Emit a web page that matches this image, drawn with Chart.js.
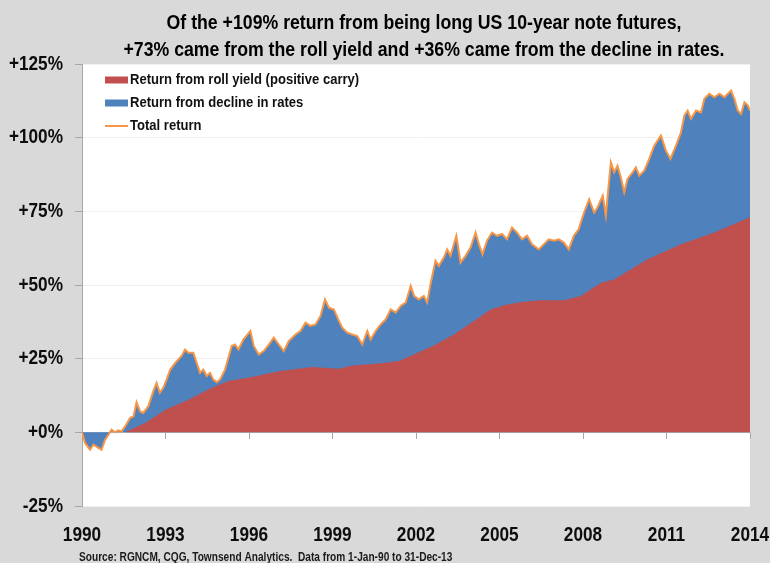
<!DOCTYPE html>
<html>
<head>
<meta charset="utf-8">
<script src="https://cdn.jsdelivr.net/npm/chart.js@4.4.1/dist/chart.umd.min.js"></script>
<style>
	html, body { margin: 0; padding: 0; background: #d9d9d9; }
	#chart { display: block; }
</style>
</head>
<body>
<canvas id="chart" width="770" height="563"></canvas>
<script>
(function () {
	'use strict';

	// total return (years as decimals, values in %)
	var totalYears = [
		1990.00, 1990.11, 1990.29, 1990.41, 1990.59, 1990.70, 1990.83, 1990.95, 1991.06, 1991.19,
		1991.30, 1991.42, 1991.55, 1991.73, 1991.85, 1991.96, 1992.09, 1992.20, 1992.38, 1992.56,
		1992.68, 1992.80, 1992.92, 1993.04, 1993.17, 1993.35, 1993.46, 1993.58, 1993.70, 1993.82,
		1994.00, 1994.12, 1994.24, 1994.36, 1994.48, 1994.60, 1994.72, 1994.84, 1994.96, 1995.14,
		1995.38, 1995.50, 1995.62, 1995.80, 1996.05, 1996.17, 1996.35, 1996.53, 1996.71, 1996.89,
		1997.07, 1997.25, 1997.43, 1997.67, 1997.85, 1998.03, 1998.21, 1998.39, 1998.57, 1998.73,
		1998.87, 1999.05, 1999.23, 1999.35, 1999.53, 1999.71, 1999.89, 2000.07, 2000.25, 2000.37,
		2000.55, 2000.73, 2000.91, 2001.09, 2001.27, 2001.45, 2001.63, 2001.81, 2001.93, 2002.10,
		2002.28, 2002.40, 2002.52, 2002.70, 2002.82, 2003.00, 2003.12, 2003.24, 2003.45, 2003.60,
		2003.78, 2003.96, 2004.14, 2004.26, 2004.39, 2004.55, 2004.73, 2004.91, 2005.09, 2005.27,
		2005.45, 2005.63, 2005.81, 2005.99, 2006.17, 2006.41, 2006.59, 2006.77, 2006.95, 2007.13,
		2007.31, 2007.49, 2007.67, 2007.85, 2007.92, 2008.04, 2008.22, 2008.40, 2008.52, 2008.71,
		2008.82, 2009.00, 2009.12, 2009.24, 2009.36, 2009.48, 2009.60, 2009.78, 2009.90, 2010.02,
		2010.20, 2010.38, 2010.56, 2010.80, 2010.98, 2011.14, 2011.34, 2011.52, 2011.64, 2011.76,
		2011.88, 2012.06, 2012.24, 2012.36, 2012.54, 2012.72, 2012.90, 2013.08, 2013.32, 2013.44,
		2013.56, 2013.68, 2013.80, 2013.92, 2014.00
	];
	var totalReturn = [
		0.0, -3.6, -5.9, -4.2, -5.3, -5.9, -2.5, -0.8, 0.9, 0.0,
		0.7, 0.3, 2.0, 4.9, 5.4, 10.2, 7.1, 6.6, 8.8, 13.9,
		16.8, 13.4, 15.1, 17.9, 21.3, 23.6, 24.7, 25.9, 28.1, 27.0,
		27.0, 23.6, 20.2, 21.3, 19.1, 20.2, 17.9, 17.0, 17.9, 21.3,
		29.3, 29.8, 28.1, 31.5, 34.4, 29.3, 26.4, 27.6, 29.8, 32.1,
		29.8, 27.6, 31.0, 33.2, 34.4, 37.2, 36.1, 36.6, 39.5, 45.1,
		42.3, 41.7, 37.8, 35.5, 33.8, 33.2, 32.7, 29.8, 34.4, 31.5,
		34.4, 36.6, 38.3, 41.7, 40.6, 42.9, 44.0, 49.7, 46.3, 45.1,
		46.3, 44.0, 50.2, 58.2, 56.5, 59.3, 62.1, 59.9, 66.7, 57.6,
		59.9, 62.7, 67.8, 63.8, 60.4, 65.0, 67.8, 66.7, 67.3, 65.5,
		69.5, 67.8, 65.5, 66.7, 63.8, 62.1, 63.8, 65.5, 65.0, 65.5,
		64.4, 62.1, 66.7, 69.0, 71.2, 74.6, 79.1, 74.6, 76.3, 80.3,
		73.5, 91.6, 88.2, 90.5, 86.5, 81.4, 86.0, 88.2, 89.9, 87.1,
		88.8, 92.8, 97.3, 100.7, 95.6, 92.8, 97.3, 101.8, 107.5, 109.2,
		106.4, 109.2, 108.6, 113.2, 114.9, 113.7, 114.9, 113.7, 116.0, 113.2,
		109.2, 108.0, 112.0, 111.0, 109.2
	];

	var rollYears = [
		1990.00, 1991.55, 1992.27, 1993.00, 1993.82, 1994.66, 1995.26, 1996.10, 1997.07, 1998.27,
		1999.23, 1999.71, 2000.67, 2001.39, 2001.92, 2002.64, 2003.36, 2004.08, 2004.68, 2005.27,
		2005.87, 2006.47, 2007.31, 2007.92, 2008.65, 2009.12, 2010.32, 2011.52, 2012.72, 2014.00
	];
	var rollYield = [
		0.0, 0.0, 3.2, 7.7, 11.1, 15.1, 17.4, 18.8, 20.7, 22.2,
		21.6, 22.7, 23.4, 24.2, 26.4, 29.5, 33.2, 37.8, 41.7, 43.4,
		44.3, 44.8, 44.8, 46.3, 50.8, 51.9, 58.7, 63.8, 67.8, 73.0
	];

	var yearTicks = [1990, 1993, 1996, 1999, 2002, 2005, 2008, 2011, 2014];
	var pctTicks = [-25, 0, 25, 50, 75, 100, 125];

	var titleLines = [
		'Of the +109% return from being long US 10-year note futures,',
		'+73% came from the roll yield and +36% came from the decline in rates.'
	];
	var sourceText = 'Source: RGNCM, CQG, Townsend Analytics.  Data from 1-Jan-90 to 31-Dec-13';

	// no Arial Narrow here, so squeeze Liberation Sans the same way
	var FONT = '"Liberation Sans", Arial, sans-serif';

	function narrowText(c, text, x, y, align, font, squeeze) {
		c.save();
		c.font = font;
		c.textAlign = align;
		c.textBaseline = 'middle';
		c.translate(x, y);
		c.scale(squeeze || 0.82, 1);
		c.fillText(text, 0, 0);
		c.restore();
	}

	function toPoints(xs, ys) {
		return xs.map(function (x, i) {
			return { x: x, y: ys[i] };
		});
	}

	function fixedTicks(list) {
		return function (s) {
			s.ticks = list.map(function (v) { return { value: v }; });
		};
	}

	var totalPts = toPoints(totalYears, totalReturn);
	var rollPts = toPoints(rollYears, rollYield);

	var backdrop = {
		id: 'backdrop',
		beforeDraw: function (chart) {
			var c = chart.ctx;
			var a = chart.chartArea;
			c.save();
			c.fillStyle = '#d9d9d9';
			c.fillRect(0, 0, chart.width, chart.height);
			c.fillStyle = '#ffffff';
			c.fillRect(a.left, a.top, a.right - a.left, a.bottom - a.top);
			c.restore();
		}
	};

	var texts = {
		id: 'texts',
		afterDraw: function (chart) {
			var c = chart.ctx;
			var ds = chart.data.datasets;
			var xs = chart.scales.x;
			var ys = chart.scales.y;

			c.fillStyle = '#000';
			narrowText(c, titleLines[0], 424, 23, 'center', 'bold 20px ' + FONT, 0.885);
			narrowText(c, titleLines[1], 424, 50, 'center', 'bold 20px ' + FONT, 0.885);

			c.fillStyle = '#0d0d0d';
			yearTicks.forEach(function (v) {
				narrowText(c, String(v), xs.getPixelForValue(v), 535, 'center', 'bold 21px ' + FONT);
			});
			pctTicks.forEach(function (v) {
				var label = (v < 0 ? '' : '+') + v + '%';
				narrowText(c, label, 63, ys.getPixelForValue(v), 'right', 'bold 21px ' + FONT);
			});

			c.fillStyle = '#1a1a1a';
			narrowText(c, sourceText, 79, 558, 'left', 'bold 12px ' + FONT, 0.845);

			// legend, in the order of the original
			var rows = [ds[1], ds[2], ds[0]];
			rows.forEach(function (d, i) {
				var y = 80 + i * 23;
				c.save();
				if (d.fill) {
					c.fillStyle = d.backgroundColor;
					c.fillRect(105, y - 3.5, 23, 7);
				} else {
					c.strokeStyle = d.borderColor;
					c.lineWidth = 2;
					c.beginPath();
					c.moveTo(105, y);
					c.lineTo(128, y);
					c.stroke();
				}
				c.restore();
				c.fillStyle = '#111';
				narrowText(c, d.label, 130, y, 'left', 'bold 15px ' + FONT, 0.87);
			});
		}
	};

	new Chart(document.getElementById('chart'), {
		type: 'line',
		data: {
			datasets: [{
				label: 'Total return',
				data: totalPts,
				borderColor: '#f79646',
				borderWidth: 2,
				fill: false,
				order: 0
			}, {
				label: 'Return from roll yield (positive carry)',
				data: rollPts,
				backgroundColor: '#c0504d',
				borderColor: 'transparent',
				borderWidth: 0,
				fill: 'origin',
				order: 1
			}, {
				label: 'Return from decline in rates',
				data: totalPts,
				backgroundColor: '#4f81bd',
				borderColor: 'transparent',
				borderWidth: 0,
				fill: 'origin',
				order: 2
			}]
		},
		options: {
			responsive: false,
			animation: false,
			events: [],
			layout: { padding: { top: 64, right: 20, left: 0, bottom: 0 } },
			elements: { point: { radius: 0 }, line: { tension: 0 } },
			plugins: {
				legend: { display: false },
				tooltip: { enabled: false },
				title: { display: false }
			},
			scales: {
				x: {
					type: 'linear',
					min: 1990,
					max: 2014,
					position: 'bottom',
					afterBuildTicks: fixedTicks(yearTicks),
					ticks: { display: false },
					grid: { display: false },
					border: { display: false },
					afterFit: function (s) { s.height = 57; }
				},
				xZero: {
					type: 'linear',
					min: 1990,
					max: 2014,
					position: { y: 0 },
					afterBuildTicks: fixedTicks(yearTicks),
					ticks: { display: false },
					grid: { drawOnChartArea: false, tickLength: 6, color: '#a6a6a6' },
					border: { display: true, color: '#bfbfbf' }
				},
				y: {
					min: -25,
					max: 125,
					afterBuildTicks: fixedTicks(pctTicks),
					ticks: { display: false },
					grid: { color: '#f0f0f0', tickLength: 7, tickColor: '#a6a6a6' },
					border: { color: '#a6a6a6' },
					afterFit: function (s) { s.width = 82; }
				}
			}
		},
		plugins: [backdrop, texts]
	});
})();
</script>
</body>
</html>
